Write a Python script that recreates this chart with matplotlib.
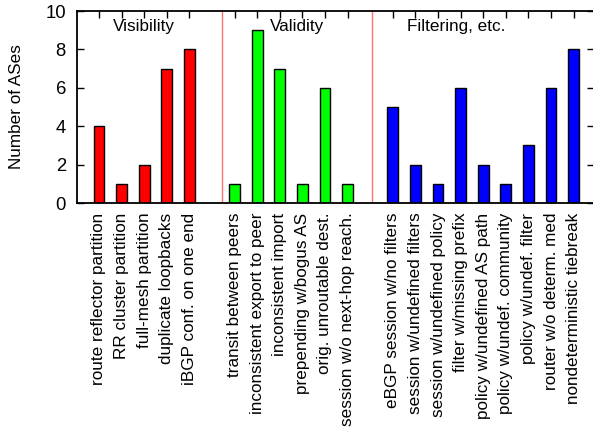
import matplotlib
matplotlib.use('Agg')
import matplotlib.pyplot as plt
import numpy as np

plt.rcParams['font.family'] = ['Liberation Sans', 'DejaVu Sans']

# data
vis_labels = ['route reflector partition', 'RR cluster partition', 'full-mesh partition',
              'duplicate loopbacks', 'iBGP conf. on one end']
vis_values = [4, 1, 2, 7, 8]

val_labels = ['transit between peers', 'inconsistent export to peer', 'inconsistent import',
              'prepending w/bogus AS', 'orig. unroutable dest.', 'session w/o next-hop reach.']
val_values = [1, 9, 7, 1, 6, 1]

fil_labels = ['eBGP session w/no filters', 'session w/undefined filters',
              'session w/undefined policy', 'filter w/missing prefix',
              'policy w/undefined AS path', 'policy w/undef. community',
              'policy w/undef. filter', 'router w/o determ. med',
              'nondeterministic tiebreak']
fil_values = [5, 2, 1, 6, 2, 1, 3, 6, 8]

groups = ['Visibility', 'Validity', 'Filtering, etc.']

fig = plt.figure(figsize=(5.93, 4.34), dpi=100)
ax = fig.add_axes([77/593, 1 - 203/434, 517/593, 192/434])

x_vis = np.arange(0, 5)
x_val = np.arange(6, 12)
x_fil = np.arange(13, 22)

w = 0.48
ax.bar(x_vis, vis_values, w, color='#ff0000', edgecolor='black', linewidth=1)
ax.bar(x_val, val_values, w, color='#00ff00', edgecolor='black', linewidth=1)
ax.bar(x_fil, fil_values, w, color='#0000ff', edgecolor='black', linewidth=1)

ax.axvline(5.45, color='#ff7070', linewidth=1)
ax.axvline(12.1, color='#ff7070', linewidth=1)

fs = 12.3
ax.text(2, 9.2, groups[0], ha='center', va='center', fontsize=fs)
ax.text(8.75, 9.2, groups[1], ha='center', va='center', fontsize=fs)
ax.text(15.8, 9.2, groups[2], ha='center', va='center', fontsize=fs)

ticks = np.concatenate([x_vis, x_val, x_fil])
ax.set_xticks(ticks)
ax.set_xticklabels(vis_labels + val_labels + fil_labels, rotation=90, fontsize=fs)
ax.set_xlim(-0.97, 21.9)
ax.set_ylim(0, 10)
ax.set_yticks(np.arange(0, 11, 2))
ax.tick_params(axis='y', labelsize=fs + 1, direction='in', right=True, length=5, width=1, pad=8)
ax.tick_params(axis='x', direction='in', top=True, bottom=True, length=5, width=1, pad=7)
ax.set_ylabel('Number of ASes', fontsize=fs, labelpad=15)
ax.set_axisbelow(True)
for s in ax.spines.values():
    s.set_linewidth(1.3)

fig.savefig('out.png', dpi=100)
